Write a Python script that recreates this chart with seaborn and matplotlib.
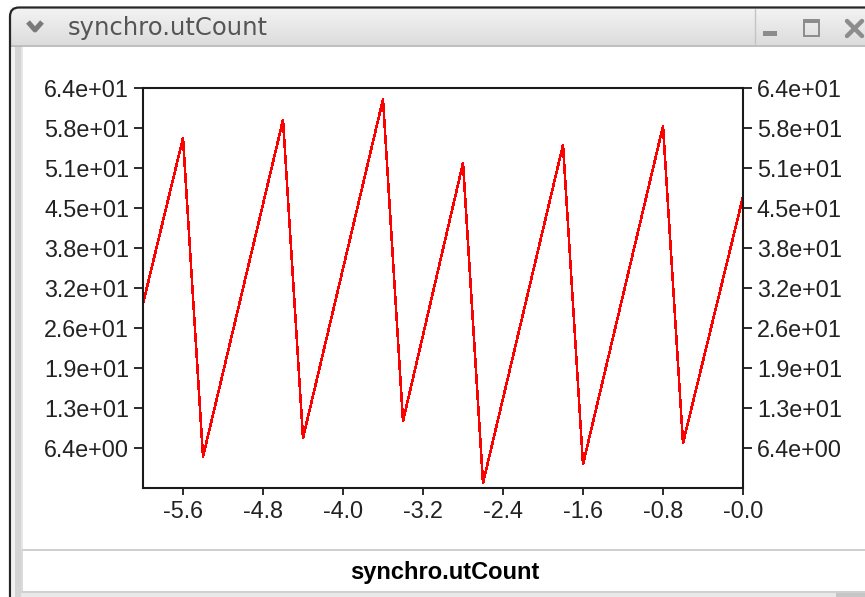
import numpy as np
import pandas as pd
import matplotlib
matplotlib.use("Agg")
import matplotlib.pyplot as plt
import seaborn as sns
from matplotlib.patches import Rectangle, FancyBboxPatch

# ---------------- data ----------------
series_name = "synchro.utCount"
time_s = [-6.0, -5.6, -5.4, -4.6, -4.4, -3.6, -3.4, -2.8, -2.6, -1.8, -1.6, -0.8, -0.6, 0.0]
count = [29.5, 56.0, 5.0, 58.9, 8.0, 62.2, 10.7, 52.0, 0.8, 54.9, 3.8, 57.9, 7.2, 46.6]
y_ticks = [6.4, 12.8, 19.2, 25.6, 32.0, 38.4, 44.8, 51.2, 57.6, 64.0]
y_tick_labels = ["6.4e+00", "1.3e+01", "1.9e+01", "2.6e+01", "3.2e+01",
                 "3.8e+01", "4.5e+01", "5.1e+01", "5.8e+01", "6.4e+01"]
x_ticks = [-5.6, -4.8, -4.0, -3.2, -2.4, -1.6, -0.8, 0.0]
x_tick_labels = ["-5.6", "-4.8", "-4.0", "-3.2", "-2.4", "-1.6", "-0.8", "-0.0"]

df = pd.DataFrame({"t": time_s, "v": count})

sns.set_theme(style="white")
plt.rcParams["font.family"] = ["Liberation Sans", "DejaVu Sans"]

W, H = 865, 597
fig = plt.figure(figsize=(W / 100, H / 100), dpi=100)
fig.patch.set_facecolor("white")

# ---------------- window chrome (pixel coordinates) ----------------
bg = fig.add_axes([0, 0, 1, 1], zorder=-10)
bg.set_xlim(0, W)
bg.set_ylim(H, 0)
bg.axis("off")

# title bar gradient
grad = np.linspace(0.955, 0.865, 64)
grad_img = np.dstack([grad, grad, grad]).reshape(64, 1, 3)
bg.imshow(grad_img, extent=[10, W, 45, 7], aspect="auto", interpolation="bilinear", zorder=1)
# body
bg.add_patch(Rectangle((10, 45), W - 10, H - 45, facecolor="white", edgecolor="none", zorder=1))
# left frame strip
bg.add_patch(Rectangle((12, 46), 3, H - 46, facecolor="#f2f2f2", edgecolor="none", zorder=2))
bg.add_patch(Rectangle((15, 46), 6, H - 46, facecolor="#d4d4d4", edgecolor="none", zorder=2))
bg.add_patch(Rectangle((21, 46), 1.5, H - 46, facecolor="#e6e6e6", edgecolor="none", zorder=2))
# outer border with rounded top-left corner
bg.add_patch(FancyBboxPatch((10, 7.5), W + 40, H + 40,
                            boxstyle="round,pad=0,rounding_size=9",
                            facecolor="none", edgecolor="#262626", linewidth=1.6, zorder=5))
# title bar bottom line
bg.plot([11, W], [45.5, 45.5], color="#b4b4b4", lw=1.2, zorder=4)
# separator before buttons
bg.plot([755, 755], [9, 45], color="#c4c4c4", lw=1.0, zorder=4)
# chevron
bg.plot([28, 35, 42], [22, 30, 22], color="#7a7a7a", lw=3.6, solid_capstyle="butt", zorder=4)
# title text
bg.text(68, 27.5, series_name, fontsize=17.5, color="#555555", va="center", ha="left",
        family=["DejaVu Sans"], zorder=6)
# minimize button
bg.add_patch(Rectangle((763, 31), 14, 5, facecolor="#8c8c8c", edgecolor="none", zorder=4))
# maximize button
bg.add_patch(Rectangle((804, 20), 15, 16, facecolor="none", edgecolor="#8c8c8c", lw=1.4, zorder=4))
bg.add_patch(Rectangle((804, 20), 15, 3, facecolor="#8c8c8c", edgecolor="none", zorder=4))
# close button (partially cut)
bg.plot([847, 862], [21, 36], color="#8c8c8c", lw=3.2, zorder=4)
bg.plot([847, 862], [36, 21], color="#8c8c8c", lw=3.2, zorder=4)

# bottom label panel
bg.plot([22, W], [550, 550], color="#cfcfcf", lw=1.4, zorder=4)
bg.plot([22, 22], [550, 592], color="#d8d8d8", lw=1.2, zorder=4)
bg.plot([22, W], [591.5, 591.5], color="#cfcfcf", lw=1.4, zorder=4)
bg.add_patch(Rectangle((22, 593), W - 22, 5, facecolor="#e9e9e9", edgecolor="none", zorder=3))
bg.add_patch(Rectangle((836, 593), W - 836, 5, facecolor="#c6c6c6", edgecolor="none", zorder=3))
bg.text(445, 572, series_name, fontsize=17, fontweight="bold", color="black",
        va="center", ha="center", zorder=6)

# ---------------- plot ----------------
ax = fig.add_axes([143 / W, 1 - 488 / H, 600 / W, 400 / H])
ax.set_facecolor("white")
sns.lineplot(data=df, x="t", y="v", ax=ax, color="#ff0000", linewidth=1.1,
             antialiased=False, sort=False, estimator=None)
ax.set_xlim(-6.0, 0.0)
ax.set_ylim(0.0, 64.0)
ax.set_xticks(x_ticks)
ax.set_xticklabels(x_tick_labels)
ax.set_yticks(y_ticks)
ax.set_yticklabels(y_tick_labels)
ax.set_xlabel("")
ax.set_ylabel("")
for s in ax.spines.values():
    s.set_visible(True)
    s.set_color("#1a1a1a")
    s.set_linewidth(1.5)
ax.tick_params(axis="y", which="both", left=True, right=True, labelleft=True, labelright=True,
               direction="out", length=6.5, width=1.3, color="#1a1a1a", pad=3.5,
               labelsize=16.8, labelcolor="#222222")
ax.tick_params(axis="x", which="both", bottom=True, direction="out", length=5, width=1.3,
               color="#1a1a1a", pad=3.5, labelsize=16.8, labelcolor="#222222")
ax.grid(False)

fig.savefig("out.png", dpi=100)
